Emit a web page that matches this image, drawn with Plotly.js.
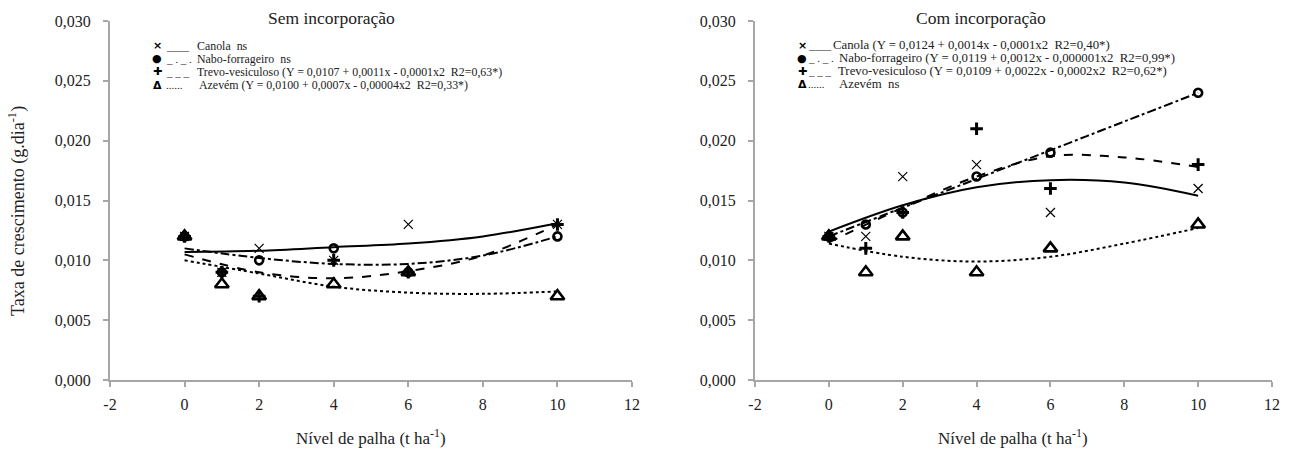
<!DOCTYPE html>
<html>
<head>
<meta charset="utf-8">
<script src="https://cdn.plot.ly/plotly-3.0.1.min.js"></script>
<style>
html,body{margin:0;padding:0;background:#fff;}
#chart{width:1301px;height:450px;}
</style>
</head>
<body>
<div id="chart"></div>
<script>
// Straw levels (t/ha) where observations were taken
const xLevels = [0, 1, 2, 4, 6, 10];

// Sem incorporação — observed growth rates
const semCanola  = [0.012, 0.009, 0.011, 0.010, 0.013, 0.013];
const semNabo    = [0.012, 0.009, 0.010, 0.011, 0.009, 0.012];
const semTrevo   = [0.012, 0.009, 0.007, 0.010, 0.009, 0.013];
const semAzevem  = [0.012, 0.008, 0.007, 0.008, 0.009, 0.007];

// Com incorporação — observed growth rates
const comCanola  = [0.012, 0.012, 0.017, 0.018, 0.014, 0.016];
const comNabo    = [0.012, 0.013, 0.014, 0.017, 0.019, 0.024];
const comTrevo   = [0.012, 0.011, 0.014, 0.021, 0.016, 0.018];
const comAzevem  = [0.012, 0.009, 0.012, 0.009, 0.011, 0.013];

// Trend lines at these levels
const curveX = [0, 2, 4, 6, 8, 10];
const semCanolaFit = [0.0107, 0.0108, 0.0111, 0.0114, 0.0120, 0.0131];
const semNaboFit   = [0.0110, 0.0102, 0.0097, 0.0097, 0.0104, 0.0120];
const semTrevoFit  = [0.0105, 0.0090, 0.0085, 0.0091, 0.0104, 0.0130];
const semAzevemFit = [0.0100, 0.0089, 0.0078, 0.0073, 0.0072, 0.0074];
const comCanolaFit = [0.0124, 0.0146, 0.0161, 0.0167, 0.0165, 0.0154];
const comNaboFit   = [0.0120, 0.0144, 0.0168, 0.0192, 0.0216, 0.0240];
const comTrevoFit  = [0.0115, 0.0144, 0.0170, 0.0187, 0.0186, 0.0178];
const comAzevemFit = [0.0114, 0.0103, 0.0099, 0.0103, 0.0114, 0.0127];

// Axis ticks
const xTickVals = [-2, 0, 2, 4, 6, 8, 10, 12];
const xTickText = ['-2', '0', '2', '4', '6', '8', '10', '12'];
const yTickVals = [0, 0.005, 0.010, 0.015, 0.020, 0.025, 0.030];
const yTickText = ['0,000', '0,005', '0,010', '0,015', '0,020', '0,025', '0,030'];

// Text
const panelTitles = ['Sem incorporação', 'Com incorporação'];
const yTitle = 'Taxa de crescimento (g.dia<sup>-1</sup>)';
const xTitle = 'Nível de palha (t ha<sup>-1</sup>)';
const semLegend = ['Canola  ns', 'Nabo-forrageiro  ns',
  'Trevo-vesiculoso (Y = 0,0107 + 0,0011x - 0,0001x2  R2=0,63*)',
  'Azevém (Y = 0,0100 + 0,0007x - 0,00004x2  R2=0,33*)'];
const comLegend = ['Canola (Y = 0,0124 + 0,0014x - 0,0001x2  R2=0,40*)',
  'Nabo-forrageiro (Y = 0,0119 + 0,0012x - 0,000001x2  R2=0,99*)',
  'Trevo-vesiculoso (Y = 0,0109 + 0,0022x - 0,0002x2  R2=0,62*)',
  'Azevém  ns'];

const BLACK = '#000';
const markerStyles = [
  {symbol: 'x-thin-open', size: 9, line: {width: 1.2, color: BLACK}, color: BLACK},
  {symbol: 'circle-open', size: 8, line: {width: 2.6, color: BLACK}, color: BLACK},
  {symbol: 'cross-thin-open', size: 9, line: {width: 3, color: BLACK}, color: BLACK},
  {symbol: 'triangle-up-open', size: 12, line: {width: 2.6, color: BLACK}, color: BLACK}
];
const dashes = ['solid', 'dashdot', 'dash', 'dot'];

function pts(y, i, xa, ya) {
  return {x: xLevels, y: y, xaxis: xa, yaxis: ya, mode: 'markers', type: 'scatter',
    marker: markerStyles[i], showlegend: false, hoverinfo: 'skip', cliponaxis: false};
}
function fit(y, i, xa, ya) {
  return {x: curveX, y: y, xaxis: xa, yaxis: ya, mode: 'lines', type: 'scatter',
    line: {color: BLACK, width: 2, dash: dashes[i], shape: 'spline', smoothing: 1},
    showlegend: false, hoverinfo: 'skip'};
}

const data = [
  fit(semCanolaFit, 0, 'x', 'y'), fit(semNaboFit, 1, 'x', 'y'),
  fit(semTrevoFit, 2, 'x', 'y'), fit(semAzevemFit, 3, 'x', 'y'),
  pts(semCanola, 0, 'x', 'y'), pts(semNabo, 1, 'x', 'y'),
  pts(semTrevo, 2, 'x', 'y'), pts(semAzevem, 3, 'x', 'y'),
  fit(comCanolaFit, 0, 'x2', 'y2'), fit(comNaboFit, 1, 'x2', 'y2'),
  fit(comTrevoFit, 2, 'x2', 'y2'), fit(comAzevemFit, 3, 'x2', 'y2'),
  pts(comCanola, 0, 'x2', 'y2'), pts(comNabo, 1, 'x2', 'y2'),
  pts(comTrevo, 2, 'x2', 'y2'), pts(comAzevem, 3, 'x2', 'y2')
];

const FONT = 'Liberation Serif, Times New Roman, serif';
const TXT = '#222';
const AXC = '#a6a6a6';
function xax(dom, anchor) {
  return {domain: dom, anchor: anchor, range: [-2, 12], tickmode: 'array',
    tickvals: xTickVals, ticktext: xTickText,
    showgrid: false, zeroline: false, showline: true, linecolor: AXC, linewidth: 2,
    ticks: 'outside', ticklen: 5, tickwidth: 2, tickcolor: AXC, ticklabelstandoff: 4,
    tickfont: {family: FONT, size: 16, color: TXT}, fixedrange: true};
}
function yax(anchor) {
  return {domain: [0, 1], anchor: anchor, range: [0, 0.03], tickmode: 'array',
    tickvals: yTickVals, ticktext: yTickText, showgrid: false, zeroline: false, showline: true,
    linecolor: AXC, linewidth: 2, ticks: 'outside', ticklen: 5, tickwidth: 2,
    tickcolor: AXC, ticklabelstandoff: 9,
    tickfont: {family: FONT, size: 16, color: TXT}, fixedrange: true};
}

const W = 1162, H = 359, L = 110, T = 21;
const px = v => (v - L) / W;
const py = v => (T + H - v) / H;

const annotations = [];
function ann(x, y, text, size, opts) {
  annotations.push(Object.assign({xref: 'paper', yref: 'paper', x: px(x), y: py(y),
    xanchor: 'center', yanchor: 'middle',
    text: text, showarrow: false, font: {family: FONT, size: size, color: TXT}}, opts || {}));
}
ann(331, 18, panelTitles[0], 17.5);
ann(981, 18, panelTitles[1], 17.5);
ann(17, 211, yTitle, 18, {textangle: -90});
ann(371, 437, xTitle, 17);
ann(1013, 437, xTitle, 17);

const symTexts = ['×', '●', '✚', 'Δ'];
const symFont = {family: 'DejaVu Sans', size: 11, color: BLACK};
const lineTexts = ['____', '_ . _ .', '_ _ _', '......'];
function legendBlock(sx, lineX, lxs, ys, labels, size) {
  for (let i = 0; i < 4; i++) {
    ann(sx, ys[i], '<b>' + symTexts[i] + '</b>', 11, {font: symFont});
    ann(lineX, ys[i], lineTexts[i], 11, {xanchor: 'left'});
    ann(lxs[i], ys[i], labels[i], size, {xanchor: 'left'});
  }
}
legendBlock(157, 164, [195, 195, 195, 197], [46, 59, 72, 85], semLegend, 11.9);
legendBlock(802, 806, [831, 837, 836, 837], [45, 58, 71, 84], comLegend, 12.8);

const layout = {
  width: 1301, height: 450,
  margin: {l: L, r: 1301 - L - W, t: T, b: 450 - T - H, pad: 0},
  paper_bgcolor: '#fff', plot_bgcolor: '#fff',
  showlegend: false,
  xaxis: xax([0, px(632)], 'y'),
  yaxis: yax('x'),
  xaxis2: xax([px(755), 1], 'y2'),
  yaxis2: yax('x2'),
  annotations: annotations
};

Plotly.newPlot('chart', data, layout, {displayModeBar: false, staticPlot: true});
</script>
</body>
</html>
